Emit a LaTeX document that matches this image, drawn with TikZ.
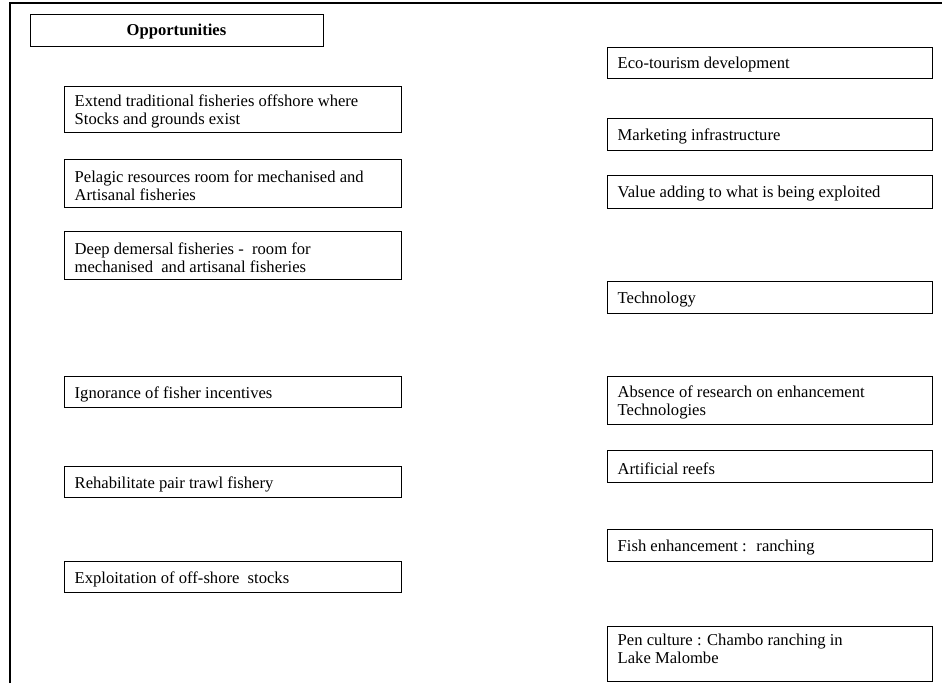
\documentclass[tikz,border=0pt]{standalone}
\usepackage{fontspec}
\setmainfont{Liberation Serif}
\newcommand{\fs}{\fontsize{16.6}{18.2}\selectfont}
\tikzset{
  box/.style={draw, line width=0.95pt, anchor=north west, inner sep=0pt, outer sep=0pt},
  lbl/.style={anchor=west, inner sep=0pt, align=left, font=\fs},
  frame/.style={line width=1.6pt}
}
\newcommand{\bx}[6]{%
  \pgfmathsetmacro{\bw}{#4-#2}\pgfmathsetmacro{\bh}{#5-#3}%
  \node[box, minimum width=\bw pt, minimum height=\bh pt] (#1) at (#2,#3) {};%
  \node[lbl] (#1-t) at ([xshift=10.5pt,yshift=-2.5pt]#1.west) {#6};%
}
\begin{document}
\begin{tikzpicture}[x=1pt,y=-1pt]
\useasboundingbox (0,0) rectangle (942,683);
% outer frame
\coordinate (fbl) at (10,683);
\coordinate (ftl) at (10,3);
\coordinate (ftr) at (942,3);
\draw[frame] (fbl) -- (ftl) -- (ftr);
% header
\node[box, minimum width=293pt, minimum height=32pt] (opp) at (30,14) {};
\node[font=\fs\bfseries, inner sep=0pt] (opp-t) at ([yshift=-1.5pt]opp.center) {Opportunities};
% left column
\bx{ext}{64}{86}{401}{132}{Extend traditional fisheries offshore where\\Stocks and grounds exist}
\bx{pel}{64}{159}{401}{207}{Pelagic resources room for mechanised and\\Artisanal fisheries}
\bx{dee}{64}{231}{401}{279}{Deep demersal fisheries -~ room for\\mechanised~ and artisanal fisheries}
\bx{ign}{64}{376}{401}{407}{Ignorance of fisher incentives}
\bx{reh}{64}{466}{401}{497}{Rehabilitate pair trawl fishery}
\bx{exp}{64}{561}{401}{592}{Exploitation of off-shore~ stocks}
% right column
\bx{eco}{607}{47}{932}{78}{Eco-tourism development}
\bx{mkt}{607}{118}{932}{150}{Marketing infrastructure}
\bx{val}{607}{175}{932}{208}{Value adding to what is being exploited}
\bx{tec}{607}{281}{932}{313}{Technology}
\bx{abs}{607}{376}{932}{424}{Absence of research on enhancement\\Technologies}
\bx{art}{607}{450}{932}{482}{Artificial reefs}
\bx{fis}{607}{529}{932}{561}{Fish enhancement :~ ranching}
\node[box, minimum width=325pt, minimum height=55pt] (pen) at (607,626) {};
\node[lbl, anchor=north west] (pen-t) at ([xshift=10.5pt,yshift=-8pt]pen.north west) {Pen culture : Chambo ranching in\\Lake Malombe};
\end{tikzpicture}
\end{document}
